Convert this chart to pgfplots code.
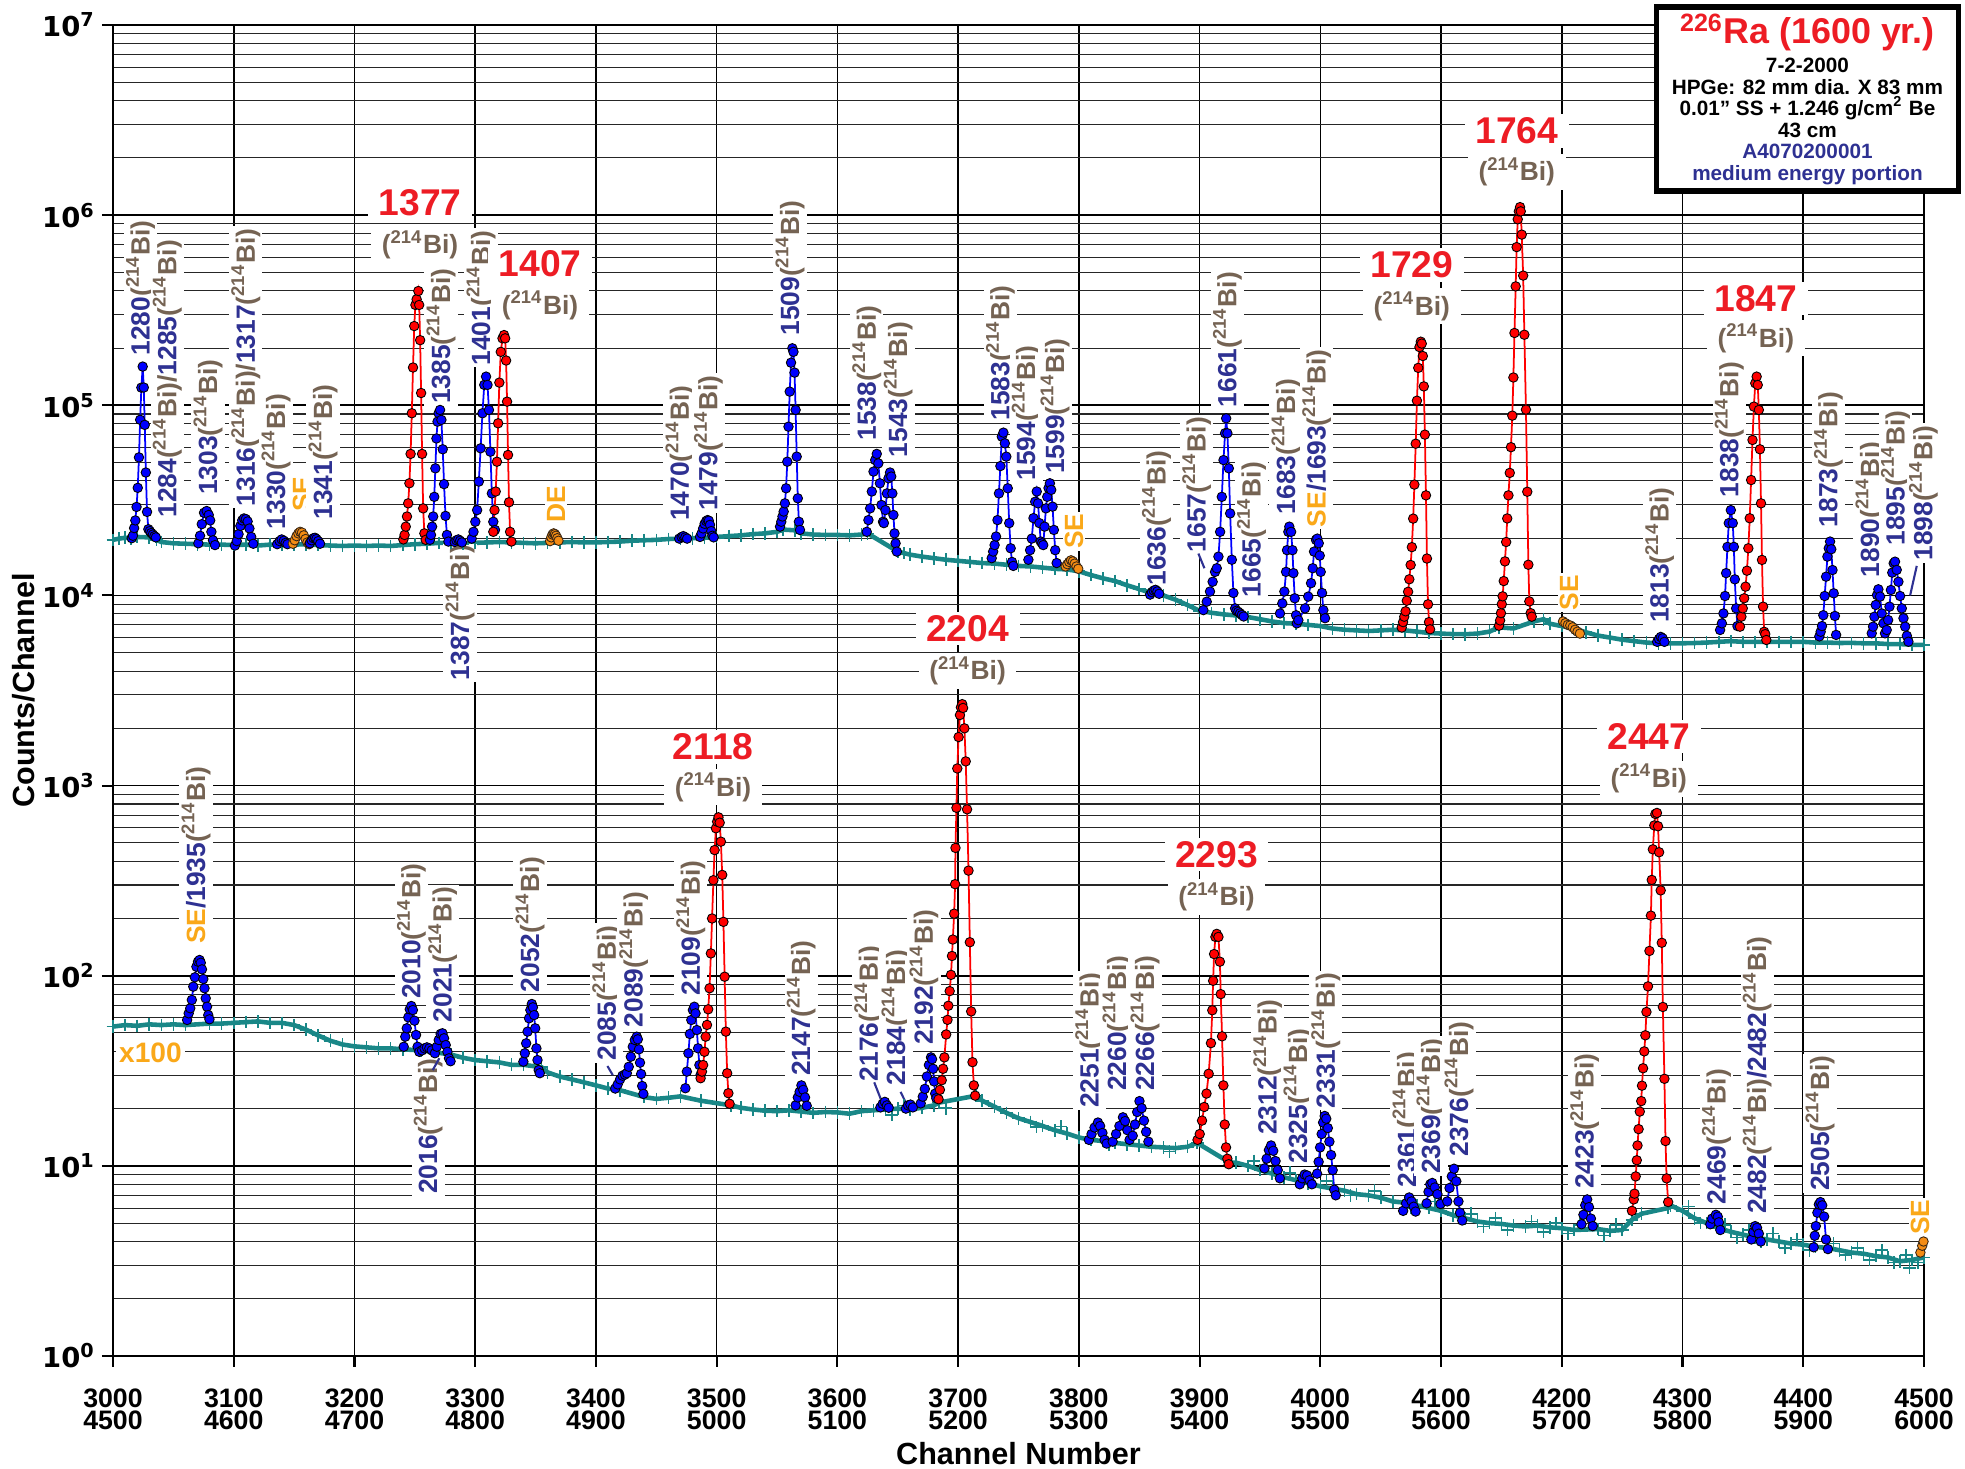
\documentclass[border=0pt]{standalone}
\usepackage{pgfplots}
\pgfplotsset{compat=1.18}
\usepackage{fontspec}
\setmainfont{Liberation Sans}
\newfontfamily\dvs{DejaVu Sans}
\definecolor{cteal}{RGB}{25,135,135}
\definecolor{cblue}{RGB}{0,0,255}
\definecolor{pred}{RGB}{255,0,0}
\definecolor{cred}{RGB}{237,28,36}
\definecolor{corg}{RGB}{245,140,20}
\definecolor{lorg}{RGB}{250,168,25}
\definecolor{lblue}{RGB}{46,49,146}
\definecolor{lbrown}{RGB}{117,99,83}
\newcommand{\BI}{\textcolor{lbrown}{(\textsuperscript{214}Bi)}}
\newcommand{\PK}[1]{\textcolor{lblue}{#1}}
\pgfplotsset{
 bgs/.style={color=cteal, line width=1.3pt, mark=+, mark size=1.8pt, mark options={line width=0.45pt}},
 bgn/.style={color=cteal, only marks, mark=+, mark size=1.8pt, mark options={line width=0.45pt}},
 bp/.style={color=cblue, line width=0.5pt, mark=*, mark size=1.35pt, mark options={fill=cblue, draw=black, line width=0.25pt}},
 rp/.style={color=pred, line width=0.5pt, mark=*, mark size=1.35pt, mark options={fill=pred, draw=black, line width=0.25pt}},
 op/.style={color=corg, line width=0.5pt, mark=*, mark size=1.35pt, mark options={fill=corg, draw=black!70!brown, line width=0.25pt}},
}
\tikzset{
 lab/.style={rotate=90, anchor=west, fill=white, inner sep=0.6pt, font=\fontsize{7.5}{8}\selectfont\bfseries},
 rl/.style={anchor=center, fill=white, inner xsep=3pt, inner ysep=1pt, font=\fontsize{10.6}{11}\selectfont\bfseries, text=cred},
 rb/.style={anchor=center, fill=white, inner xsep=3pt, inner ysep=1pt, font=\fontsize{7.5}{8}\selectfont\bfseries},
 ldr/.style={draw=lblue, line width=0.6pt},
}
\begin{document}
\begin{tikzpicture}
\begin{axis}[
 name=ax, scale only axis, width=18.11cm, height=13.31cm,
 xmin=3000, xmax=4500, ymode=log, ymin=1, ymax=1e7,
 xtick={3000,3100,3200,3300,3400,3500,3600,3700,3800,3900,4000,4100,4200,4300,4400,4500},
 xticklabels={{3000\\4500},{3100\\4600},{3200\\4700},{3300\\4800},{3400\\4900},{3500\\5000},{3600\\5100},{3700\\5200},{3800\\5300},{3900\\5400},{4000\\5500},{4100\\5600},{4200\\5700},{4300\\5800},{4400\\5900},{4500\\6000}},
 ytick={1,10,100,1000,10000,100000,1000000,10000000},
 yticklabels={{10\textsuperscript{0}},{10\textsuperscript{1}},{10\textsuperscript{2}},{10\textsuperscript{3}},{10\textsuperscript{4}},{10\textsuperscript{5}},{10\textsuperscript{6}},{10\textsuperscript{7}}},
 minor ytick={2,3,4,5,6,7,8,9,20,30,40,50,60,70,80,90,200,300,400,500,600,700,800,900,2000,3000,4000,5000,6000,7000,8000,9000,20000,30000,40000,50000,60000,70000,80000,90000,200000,300000,400000,500000,600000,700000,800000,900000,2000000,3000000,4000000,5000000,6000000,7000000,8000000,9000000},
 xmajorgrids, ymajorgrids, yminorgrids,
 tick align=outside, tick pos=left,
 major tick length=0.11cm, minor tick length=0pt,
 major grid style={black, line width=0.45pt},
 minor grid style={black!85, line width=0.3pt},
 axis line style={line width=0.7pt},
 tick style={black, line width=0.6pt},
 xticklabel style={align=center, yshift=-0.09cm, font=\fontsize{7.6}{6.4}\selectfont\bfseries},
 yticklabel style={inner sep=0.8pt, xshift=-0.03cm, font=\dvs\fontsize{7.8}{8}\selectfont\bfseries},
 xlabel={Channel Number}, ylabel={Counts/Channel},
 xlabel style={at={(axis description cs:0.5,-0.0736)}, anchor=center},
 ylabel style={at={(axis description cs:-0.0491,0.5)}, anchor=center},
 label style={font=\fontsize{8.7}{9}\selectfont\bfseries},
 clip=false,
]
% ---- upper continuum (channels 3000-4500)
\addplot[bgs] coordinates {(3000,19600)(3005,19900)(3010,20100)(3015,20000)(3020,20300)(3030,20200)(3036,19600)(3040,19100)(3050,18800)(3060,18700)(3070,18600)(3080,18500)(3090,18500)(3100,18400)(3110,18500)(3120,18300)(3130,18500)(3140,18600)(3150,18500)(3160,18600)(3170,18400)(3180,18300)(3190,18200)(3200,18300)(3210,18200)(3220,18300)(3230,18200)(3240,18400)(3250,18600)(3260,18700)(3270,18900)(3280,18900)(3290,18700)(3300,18900)(3310,19000)(3320,19100)(3330,19000)(3340,18900)(3350,18800)(3360,18900)(3370,19000)(3380,19100)(3390,19000)(3400,19000)(3410,19100)(3420,19200)(3430,19400)(3440,19500)(3450,19600)(3460,19800)(3470,19900)(3480,20000)(3490,20100)(3500,20300)(3510,20500)(3520,20700)(3530,21000)(3540,21200)(3550,21600)(3555,22200)(3565,22000)(3570,21200)(3580,20900)(3590,20800)(3600,20800)(3610,20700)(3620,20900)(3625,21200)(3650,17000)(3655,16700)(3660,16400)(3670,16000)(3680,15700)(3690,15400)(3700,15200)(3710,15000)(3720,14800)(3730,14700)(3740,14500)(3750,14300)(3760,14200)(3770,14000)(3780,13800)(3790,13700)(3800,13400)(3810,12800)(3820,12300)(3830,11900)(3840,11300)(3850,10800)(3860,10300)(3870,10000)(3880,9500)(3890,8900)(3900,8300)(3910,8100)(3920,7950)(3930,7850)(3940,7700)(3950,7500)(3960,7300)(3970,7150)(3980,7100)(3990,7000)(4000,6900)(4010,6700)(4020,6600)(4030,6550)(4040,6500)(4050,6550)(4060,6600)(4070,6550)(4080,6450)(4090,6350)(4100,6300)(4110,6260)(4120,6250)(4130,6300)(4140,6450)(4148,6800)(4160,6700)(4177,7300)(4185,7500)(4190,7100)(4200,6900)(4210,6700)(4220,6400)(4230,6150)(4240,6000)(4250,5850)(4260,5750)(4270,5650)(4280,5600)(4290,5600)(4300,5600)(4310,5620)(4320,5650)(4330,5700)(4340,5750)(4350,5700)(4360,5700)(4370,5700)(4380,5700)(4390,5700)(4400,5700)(4410,5650)(4420,5650)(4430,5620)(4440,5630)(4450,5600)(4460,5600)(4470,5550)(4480,5550)(4490,5500)(4500,5490)};
% ---- lower continuum (channels 4500-6000, divided by 100)
\addplot[bgs] coordinates {(3000,54)(3010,55)(3020,54.5)(3030,55.5)(3040,55)(3050,55.5)(3060,55)(3080,56)(3090,56)(3100,56.5)(3110,57)(3120,57.5)(3130,56.5)(3140,56.5)(3150,55)(3160,52)(3170,48.5)(3180,45.5)(3190,43.5)(3200,42.5)(3210,42)(3220,41.5)(3230,41.5)(3240,41)(3255,40.5)(3280,38.5)(3290,37)(3300,36)(3310,35.5)(3320,35)(3330,34)(3340,34)(3355,33)(3360,31)(3370,29.5)(3380,28.5)(3390,27.5)(3400,26.5)(3410,25.5)(3420,25)(3440,23)(3450,22.5)(3460,22.8)(3470,23.2)(3487,22)(3512,20.8)(3520,20.2)(3530,19.8)(3540,19.5)(3550,19.4)(3560,19.6)(3570,19.3)(3580,19)(3590,19.2)(3600,19.1)(3610,18.8)(3620,19.4)(3630,19.6)(3640,19.8)(3650,20)(3660,19.8)(3670,20.2)(3680,20.8)(3684,21.5)(3715,23.4)(3720,22)(3730,20.5)(3740,19)(3750,17.8)(3760,17)(3770,16.2)(3780,15.4)(3790,14.8)(3800,14.1)(3810,13.7)(3820,13.5)(3830,13.2)(3840,13)(3850,12.8)(3860,12.6)(3870,12.5)(3880,12.4)(3890,12.6)(3898,13.2)(3925,10.4)(3930,10.4)(3940,10)(3950,9.5)(3960,9.1)(3970,8.7)(3980,8.4)(3990,8.1)(4000,7.8)(4010,7.6)(4020,7.4)(4030,7.1)(4040,7.0)(4050,6.8)(4060,6.5)(4070,6.4)(4080,6.2)(4090,6.0)(4100,5.8)(4110,5.5)(4120,5.3)(4130,5.1)(4140,5.0)(4150,4.95)(4160,4.85)(4170,4.8)(4180,4.85)(4190,4.75)(4200,4.7)(4210,4.6)(4230,4.65)(4240,4.55)(4250,4.6)(4258,5.2)(4266,5.6)(4288,6.0)(4290,6.2)(4300,5.8)(4310,5.3)(4320,5.0)(4330,4.7)(4340,4.5)(4350,4.35)(4360,4.2)(4370,4.1)(4380,4.0)(4390,3.9)(4400,3.85)(4410,3.75)(4420,3.7)(4430,3.6)(4440,3.5)(4450,3.45)(4460,3.35)(4470,3.3)(4480,3.15)(4490,3.2)(4500,3.3)};
% scatter of the lower continuum
\addplot[bgn] coordinates {(3645,18.5)(3655,20.8)(3690,20.1)(3765,16.0)(3785,16.1)(3825,12.9)(3875,11.9)(3945,10.6)(3975,9.2)(4005,8.3)(4025,7.0)(4045,7.4)(4075,6.0)(4095,6.5)(4125,5.6)(4135,4.8)(4145,5.3)(4155,4.6)(4175,5.1)(4185,4.5)(4195,5.0)(4205,4.4)(4215,4.9)(4235,4.3)(4245,4.9)(4305,6.1)(4315,5.0)(4335,4.9)(4345,4.2)(4355,4.6)(4365,4.0)(4375,4.4)(4385,3.7)(4395,4.1)(4405,3.6)(4425,3.9)(4435,3.4)(4445,3.7)(4455,3.2)(4465,3.6)(4475,3.1)(4485,3.4)(4488,2.9)(4495,3.1)};
% ================= upper peaks
\addplot[bp] coordinates {(3015.5,20000)(3016.5,20600)(3017.5,22600)(3018.5,24800)(3019.5,29200)(3020.5,36800)(3021.5,53200)(3022.5,83900)(3023.5,123800)(3024.6,159800)(3025.5,124000)(3026.3,78900)(3027.2,44300)(3028.2,27500)(3029.3,22300)(3030.5,21800)(3031.7,21300)(3033,20900)(3034.3,20500)(3035.5,20200)};
\addplot[bp] coordinates {(3070.7,18800)(3072.1,20600)(3073.5,23700)(3075.4,27200)(3077.6,27800)(3079.3,26500)(3080.5,24800)(3081.5,21600)(3082.8,19500)(3084.5,18400)};
\addplot[bp] coordinates {(3101,18300)(3102.5,19300)(3104,21000)(3105.5,23200)(3107,24800)(3108.5,25400)(3110,25200)(3111.5,24500)(3113,22500)(3114.5,20300)(3116.2,18700)};
\addplot[bp] coordinates {(3136,18600)(3138,19300)(3139.7,19700)(3141.5,19400)(3143,18900)(3144.5,18600)};
\addplot[op] coordinates {(3149,18700)(3150.5,19500)(3152,20500)(3153.5,21200)(3155,21600)(3156.5,21400)(3158,20700)(3159.5,19800)(3161,19000)(3162.5,18600)};
\addplot[bp] coordinates {(3163,18800)(3164.5,19500)(3166,20000)(3167.3,20100)(3168.5,19800)(3170,19300)(3171.5,18700)};
\addplot[rp] coordinates {(3240.5,19700)(3241.5,20800)(3242.5,23000)(3243.5,26000)(3244.5,30500)(3245.5,38900)(3246.5,55500)(3247.5,90800)(3248.5,158000)(3249.5,261000)(3250.5,337000)(3251.5,361000)(3252.9,399000)(3253.6,337000)(3254.4,220000)(3255.2,116000)(3256,55500)(3256.9,28700)(3257.9,21200)(3259,19600)};
\addplot[bp] coordinates {(3262.5,19600)(3263.4,20800)(3264.3,23000)(3265.2,26000)(3266.1,33000)(3267,46600)(3267.9,66900)(3268.8,82000)(3269.7,90800)(3270.9,94500)(3272,83800)(3273.1,58700)(3274.2,38500)(3275.4,26200)(3276.6,20800)(3277.8,19200)};
\addplot[bp] coordinates {(3283,19100)(3284.5,19500)(3286,19700)(3287.5,19400)(3289,19000)};
\addplot[bp] coordinates {(3297.1,19900)(3298.6,21600)(3300.1,24400)(3301.6,28100)(3303,39700)(3304.5,59400)(3306,90800)(3307.5,128000)(3309,141500)(3310.2,128000)(3311.4,94500)(3312.6,57000)(3313.8,34400)(3315,24400)(3316.4,22100)};
\addplot[rp] coordinates {(3315,21600)(3316,28100)(3317,35200)(3318,50500)(3319,80400)(3320,131600)(3321.2,191000)(3322.6,225000)(3323.9,234000)(3324.8,225000)(3325.6,172000)(3326.4,104500)(3327.2,54800)(3328,30900)(3328.9,21600)(3330,19200)};
\addplot[op] coordinates {(3362,19300)(3363,20200)(3364,20900)(3365,21200)(3366,21000)(3367,20600)(3368,20000)(3369,19400)};
\addplot[bp] coordinates {(3469,19900)(3471,20300)(3472.4,20500)(3474,20200)(3475.5,19900)};
\addplot[bp] coordinates {(3486.2,20300)(3487.5,21200)(3488.8,22500)(3490,23800)(3491.3,24600)(3492.5,24900)(3493.5,24700)(3494.5,23500)(3495.5,21800)(3496.5,20600)(3497.5,20200)};
\addplot[bp] coordinates {(3552.5,23000)(3553.5,24400)(3554.5,26000)(3555.5,27600)(3556.5,30500)(3557.5,36600)(3558.5,50500)(3559.5,77200)(3560.5,118000)(3561.6,167500)(3562.7,199400)(3563.6,191000)(3564.5,148500)(3565.4,94500)(3566.3,53700)(3567.2,32400)(3568.1,24400)(3569,22100)};
\addplot[bp] coordinates {(3624.3,21600)(3625.7,24900)(3627.1,28700)(3628.5,35200)(3629.9,44800)(3631.3,51500)(3632.6,55500)(3633.9,49500)(3635.2,38900)(3636.5,29900)(3637.8,24400)};
\addplot[bp] coordinates {(3638.5,24000)(3639.8,28100)(3641,34400)(3642.3,41300)(3643.6,44300)(3644.6,42200)(3645.5,34400)(3646.4,26500)(3647.3,21200)(3648.2,18800)(3649.2,17000)};
\addplot[bp] coordinates {(3727.8,15700)(3729,17000)(3730.2,18400)(3731.4,20400)(3732.6,24900)(3733.8,34400)(3735,47900)(3736.2,68400)(3737.5,71800)(3738.7,63100)(3739.9,53700)(3741.1,36600)(3742.3,24000)(3743.5,17700)(3744.6,15000)(3745.7,14300)};
\addplot[bp] coordinates {(3758.2,15400)(3759.6,17300)(3761,19900)(3762.4,25500)(3763.8,31100)(3765.1,35200)(3766.2,30500)(3767.3,24000)(3768.4,19200)(3769.5,18800)};
\addplot[bp] coordinates {(3770.5,18400)(3771.6,23000)(3772.7,28700)(3773.8,33000)(3774.9,36700)(3776,38900)(3777.1,35900)(3778.2,29300)(3779.3,22100)(3780.4,17300)(3781.6,14800)};
\addplot[op] coordinates {(3789,14200)(3790.5,14600)(3792,15000)(3793.5,15300)(3795,15100)(3796.5,14700)(3798,14200)(3799.5,13800)};
\addplot[bp] coordinates {(3859,10100)(3860.5,10400)(3862,10600)(3863.5,10700)(3865,10500)(3866.5,10200)};
\addplot[bp] coordinates {(3903.1,8370)(3905.9,9270)(3908.6,10480)(3910.8,11800)(3912.8,13300)(3914.2,13900)(3915.6,16000)(3917,21600)(3918.4,33000)(3919.8,51500)(3921.1,71300)(3922,85400)(3923,71300)(3924.2,46600)(3925.3,27000)(3926.7,15400)(3928,10300)(3929.4,8550)};
\addplot[bp] coordinates {(3930.5,8300)(3932,8200)(3933.5,8050)(3935,7900)(3936.5,7750)};
\addplot[bp] coordinates {(3966.6,8040)(3968.5,9080)(3970.2,10480)(3971.6,13300)(3972.4,17300)(3973.5,21600)(3974.3,23000)(3975.8,21600)(3976.9,17300)(3977.7,13100)(3978.8,9660)(3979.9,7870)(3980.5,7130)};
\addplot[bp] coordinates {(3981.8,7410)(3987.3,8550)(3990,9860)(3992.3,11600)(3993.7,13900)(3994.8,17000)(3996.4,19600)(3997.5,19900)(3998.7,18800)(3999.5,16200)(4000.3,13300)(4001.4,10300)(4002.5,8370)(4003.9,7590)};
\addplot[rp] coordinates {(4067.4,6780)(4068.5,7240)(4069.5,7730)(4070.6,8250)(4071.6,9380)(4072.7,10450)(4073.7,12160)(4074.8,14460)(4075.8,17950)(4076.9,25350)(4077.9,38270)(4079,62800)(4080,105700)(4081.1,157300)(4082.1,202300)(4083.2,216000)(4084,211000)(4084.9,181600)(4085.7,125700)(4086.6,70100)(4087.5,33600)(4088.3,15630)(4089.2,8980)(4090,7240)(4090.9,6640)};
\addplot[rp] coordinates {(4148,6930)(4148.9,7390)(4149.6,8070)(4150.3,8990)(4151,9890)(4151.9,11900)(4152.9,15100)(4153.9,19100)(4154.8,25400)(4155.8,33600)(4156.9,44100)(4157.9,60200)(4159,88200)(4159.9,140000)(4160.8,240000)(4161.8,422000)(4162.6,679000)(4163.5,951000)(4164.4,1047000)(4165.4,1102000)(4166,1047000)(4166.8,790000)(4168,481000)(4169,235000)(4170.3,94900)(4171.4,35100)(4172.3,14500)(4173.1,9300)(4174.2,8070)(4175.1,7730)};
\addplot[op] coordinates {(4201,7300)(4203,7150)(4205,7000)(4207,6950)(4209,6800)(4211,6600)(4213,6450)(4215,6300)};
\addplot[bp] coordinates {(4279,5700)(4280.5,5900)(4282,6050)(4283.5,5950)(4285,5700)};
\addplot[bp] coordinates {(4331.1,6580)(4332.6,7130)(4333.9,8040)(4335.2,9930)(4336.1,13100)(4337.2,18000)(4338.3,24000)(4340,28100)(4341.6,24000)(4342.5,18000)(4343.3,12150)(4344.4,8550)(4345.5,6900)};
\addplot[rp] coordinates {(4347.6,6850)(4348.75,7730)(4349.9,8550)(4351.05,9660)(4352.2,11120)(4353.35,13490)(4354.5,17700)(4355.65,25460)(4356.8,40450)(4357.95,65700)(4359.1,98400)(4360.25,130600)(4361.4,141500)(4362.3,127900)(4363.2,94500)(4364.1,58700)(4365,30500)(4365.8,15370)(4366.7,8730)(4367.6,6440)(4368.5,6260)(4369.4,5830)};
\addplot[bp] coordinates {(4413.3,6090)(4414.4,6440)(4415.5,6900)(4416.6,7870)(4417.7,9930)(4418.9,12550)(4420,16000)(4421.1,17700)(4422.2,19200)(4423.2,17500)(4424.2,13600)(4425.2,10260)(4426.2,7800)(4427.2,6200)};
\addplot[bp] coordinates {(4456.7,6320)(4457.8,6850)(4458.9,7730)(4460,8910)(4461.1,10050)(4462.2,10770)(4463.6,9860)(4465,8040)(4466.4,7130)(4467.7,6320)};
\addplot[bp] coordinates {(4469.1,6580)(4470.3,7420)(4471.4,8730)(4472.6,10680)(4473.7,13180)(4474.9,14760)(4476,15050)(4477.4,13620)(4478.8,11800)(4480.2,9930)(4481.6,8550)(4483,7590)(4484.4,6850)(4485.8,6130)(4487.1,5710)};
% ================= lower peaks
\addplot[bp] coordinates {(3061.4,58.5)(3062.7,63.4)(3064,67.4)(3065.3,74.6)(3066.5,87.6)(3067.8,98.1)(3069.1,111.5)(3070.4,118.5)(3071.7,121)(3072.7,117)(3073.7,108)(3074.8,96.1)(3075.8,85.9)(3076.8,76.1)(3077.9,68.7)(3078.9,62.1)(3079.9,59)};
\addplot[bp] coordinates {(3240.8,42.3)(3242.1,47.8)(3243.3,52.9)(3244.6,60.4)(3245.8,66.6)(3247.1,69.3)(3248.4,66)(3249.7,58)(3251,48.8)(3252.3,42.3)(3253.7,39.8)};
\addplot[bp] coordinates {(3256,40.5)(3258,41.5)(3260,42)(3262,41.5)(3264,40.5)};
\addplot[bp] coordinates {(3266.6,39.1)(3268.2,42.3)(3269.8,45.9)(3271.4,49.4)(3272.9,49.8)(3274.2,46.9)(3275.6,43.2)(3277,39.8)(3278.3,36.8)(3279.6,35.5)};
\addplot[bp] coordinates {(3339.9,35.3)(3341.1,39.1)(3342.2,44.1)(3343.4,50.8)(3344.6,59.7)(3345.7,66)(3346.9,71)(3347.8,68.2)(3348.8,62.1)(3349.7,52.9)(3350.7,41.5)(3351.6,36)(3352.6,31.9)(3353.5,30.7)};
\addplot[bp] coordinates {(3416,25.5)(3418,26.8)(3420,28.5)(3422,29.8)(3424,30.2)(3425.6,30.7)(3427.2,33.2)(3428.9,37.5)(3430.5,42.3)(3432.2,45.9)(3433.8,47.8)(3434.7,46.3)(3435.6,41)(3436.5,34.9)(3437.4,30.4)(3438.3,26.3)(3439.3,23.9)};
\addplot[bp] coordinates {(3474.1,25.6)(3475.3,31.3)(3476.6,39.1)(3477.8,49.4)(3479,58.5)(3480.3,66)(3481.5,68.7)(3482.5,63.4)(3483.6,51.8)(3484.6,41.5)(3485.7,33.9)(3486.7,30.1)};
\addplot[rp] coordinates {(3486.7,28.9)(3487.8,31.3)(3488.8,33.9)(3489.9,39.8)(3490.9,47.8)(3492,55.1)(3493,66.6)(3494.1,85.9)(3495.2,131)(3496.2,200)(3497.3,318)(3498.3,458)(3499.4,596)(3500.4,646)(3501.5,681)(3502.5,638)(3503.5,507)(3504.6,339)(3505.6,192)(3506.6,98.8)(3507.6,50.8)(3508.7,30.7)(3509.7,24.1)(3510.7,21.2)};
\addplot[bp] coordinates {(3565.4,20.8)(3567.2,22.9)(3568.7,24.5)(3570.2,26.5)(3571.7,25.1)(3573.2,22.9)(3574.6,20.7)};
\addplot[bp] coordinates {(3635.6,20.3)(3637.5,21.2)(3639.3,21.7)(3641,20.8)(3642.5,20.2)};
\addplot[bp] coordinates {(3656.7,20)(3658.5,20.8)(3660.5,21)(3662.5,20.3)};
\addplot[bp] coordinates {(3669,21.3)(3670.7,23.1)(3672.4,25.4)(3674.1,29.5)(3675.8,33.9)(3677.5,37.2)(3678.4,36.4)(3679.3,32.4)(3680.1,27.8)(3681,24.0)(3681.9,22.7)};
\addplot[rp] coordinates {(3683.8,22.4)(3684.9,25.1)(3686.4,28.2)(3687.5,32.4)(3688.6,37.2)(3690.1,49.1)(3691.2,58.6)(3691.9,69.5)(3693,83.0)(3694.1,101)(3694.9,127)(3695.6,155)(3696.7,212)(3697.5,303)(3697.8,470)(3698.6,764)(3699.3,1230)(3700.4,1800)(3701.5,2350)(3702.3,2580)(3703.4,2680)(3704.1,2560)(3705.2,2000)(3706.3,1340)(3707.4,750)(3708.6,357)(3709.7,150)(3710.8,64.9)(3711.9,35.1)(3713,26.5)(3714.1,23.4)};
\addplot[bp] coordinates {(3808.3,13.7)(3810.5,14.7)(3813,15.9)(3815.8,16.9)(3817.6,16.2)(3819.5,14.9)(3821.3,13.7)(3823,13.1)};
\addplot[bp] coordinates {(3828,13.4)(3830.8,14.7)(3833.6,16.2)(3836.5,18)(3838.3,17.2)(3840.2,15.4)(3842,13.7)};
\addplot[bp] coordinates {(3844.6,14.4)(3846.5,16.5)(3848.3,19.2)(3850.2,21.9)(3852,20.1)(3853.9,17.3)(3855.7,15.1)(3857.6,13.4)};
\addplot[rp] coordinates {(3898.3,13.7)(3900.1,14.7)(3902,17.3)(3903.8,20.4)(3905.7,24)(3907.5,30.5)(3909.4,44.2)(3910.5,65.8)(3911.2,94)(3912,130)(3913.1,160)(3914.2,166)(3915.6,160)(3916.8,118.5)(3917.5,80)(3918.6,48)(3919.7,26.5)(3920.8,16.5)(3921.9,12.5)(3923,10.9)(3924.1,10.2)};
\addplot[bp] coordinates {(3953.7,9.7)(3955.5,10.9)(3957.4,12.1)(3959.2,12.8)(3961,12)(3962.9,10.6)(3964.7,9.5)(3966.5,8.6)};
\addplot[bp] coordinates {(3983,8.0)(3985,8.6)(3987,9.0)(3989,8.9)(3991,8.4)(3993,8.0)};
\addplot[bp] coordinates {(3997.3,9.1)(3998.6,10.5)(3999.8,12.5)(4001.1,14.7)(4002.3,16.9)(4003.6,18.3)(4004.9,17.7)(4006.2,15.8)(4007.5,13.4)(4008.9,11.4)(4010.2,9.5)(4011.5,7.5)(4012.8,7.0)};
\addplot[bp] coordinates {(4068.6,5.8)(4071,6.35)(4073.6,6.82)(4075.5,6.5)(4077.3,6.1)(4078.9,5.75)};
\addplot[bp] coordinates {(4088,6.35)(4089.6,7.3)(4091.1,8.0)(4092.7,8.13)(4094.8,7.7)(4097,7.1)(4099.5,6.3)};
\addplot[bp] coordinates {(4105.1,6.5)(4107,7.65)(4108.9,8.8)(4110.7,9.66)(4112.6,8.3)(4114.4,6.5)(4115.7,5.67)(4117.5,5.16)};
\addplot[bp] coordinates {(4216.3,4.93)(4217.9,5.53)(4219.4,6.21)(4221,6.66)(4222.5,6.07)(4224.1,5.28)(4225.6,4.82)};
\addplot[rp] coordinates {(4258.1,5.80)(4259.6,6.66)(4260.2,7.14)(4261.2,8.80)(4262.1,10.7)(4262.7,12.8)(4263.6,15.6)(4264.6,19.3)(4265.8,21.9)(4266.4,26.4)(4267.3,32.6)(4268.3,40.0)(4269.2,48.6)(4270.1,64.5)(4271.4,87.9)(4272.6,135)(4273.8,207)(4274.5,319)(4275.4,462)(4276.6,617)(4277.5,709)(4278.8,718)(4279.7,611)(4280.6,446)(4281.9,281)(4282.8,149)(4283.7,68.5)(4285,28.7)(4285.9,13.5)(4286.8,8.59)(4288.1,6.45)};
\addplot[bp] coordinates {(4323,4.93)(4324.5,5.28)(4327.6,5.53)(4329.2,5.4)(4330.1,5.05)(4331.3,4.6)};
\addplot[bp] coordinates {(4357,4.1)(4358.6,4.49)(4360.1,4.82)(4361.7,4.72)(4363.2,4.4)(4364.8,4.0)};
\addplot[bp] coordinates {(4408.6,3.73)(4409.5,4.29)(4410.4,4.82)(4411.7,5.67)(4412.9,6.27)(4414.2,6.45)(4415.7,6.2)(4417.3,5.41)(4418.8,4.1)(4420.4,3.65)};
\addplot[op] coordinates {(4497,3.5)(4498.5,3.8)(4499.6,4.0)};
% ================= labels (upper)
\node[lab] at (axis cs:3022.8,1.77e5) {\PK{1280}\BI};
\node[lab] at (axis cs:3045,2.48e4) {\PK{1284}\BI\textcolor{lbrown}{/}\PK{1285}\BI};
\node[lab] at (axis cs:3078.7,3.27e4) {\PK{1303}\BI};
\node[lab] at (axis cs:3110,2.85e4) {\PK{1316}\BI\textcolor{lbrown}{/}\PK{1317}\BI};
\node[lab] at (axis cs:3135,2.16e4) {\PK{1330}\BI};
\node[lab] at (axis cs:3156.5,2.66e4) {\textcolor{lorg}{SE}};
\node[lab] at (axis cs:3174,2.42e4) {\PK{1341}\BI};
\node[rl] at (axis cs:3254.3,1.159e6) {1377};
\node[rb] at (axis cs:3254.3,6.97e5) {\BI};
\node[lab] at (axis cs:3271.7,9.84e4) {\PK{1385}\BI};
\node[lab] at (axis cs:3287.4,3470) {\PK{1387}\BI};
\node[lab] at (axis cs:3304.8,1.567e5) {\PK{1401}\BI};
\node[rl] at (axis cs:3353.7,5.58e5) {1407};
\node[rb] at (axis cs:3353.7,3.365e5) {\BI};
\node[lab] at (axis cs:3367,2.34e4) {\textcolor{lorg}{DE}};
\node[lab] at (axis cs:3469.6,2.39e4) {\PK{1470}\BI};
\node[lab] at (axis cs:3493.2,2.70e4) {\PK{1479}\BI};
\node[lab] at (axis cs:3560.8,2.249e5) {\PK{1509}\BI};
\node[lab] at (axis cs:3624.3,6.31e4) {\PK{1538}\BI};
\node[lab] at (axis cs:3650.3,5.15e4) {\PK{1543}\BI};
\node[lab] at (axis cs:3735,8.04e4) {\PK{1583}\BI};
\node[lab] at (axis cs:3756.3,3.89e4) {\PK{1594}\BI};
\node[lab] at (axis cs:3780.3,4.22e4) {\PK{1599}\BI};
\node[lab] at (axis cs:3796,1.70e4) {\textcolor{lorg}{SE}};
\node[lab] at (axis cs:3864.3,1.09e4) {\PK{1636}\BI};
\node[lab] at (axis cs:3897.6,1.63e4) {\PK{1657}\BI};
\node[lab] at (axis cs:3923,9.44e4) {\PK{1661}\BI};
\node[lab] at (axis cs:3943,9460) {\PK{1665}\BI};
\node[lab] at (axis cs:3971.6,2.59e4) {\PK{1683}\BI};
\node[lab] at (axis cs:3997,2.21e4) {\textcolor{lorg}{SE}\PK{/1693}\BI};
\node[rl] at (axis cs:4075.7,5.47e5) {1729};
\node[rb] at (axis cs:4075.7,3.327e5) {\BI};
\node[rl] at (axis cs:4162.7,2.773e6) {1764};
\node[rb] at (axis cs:4162.7,1.687e6) {\BI};
\node[lab] at (axis cs:4206,8070) {\textcolor{lorg}{SE}};
\node[lab] at (axis cs:4281,6930) {\PK{1813}\BI};
\node[lab] at (axis cs:4338.7,3.18e4) {\PK{1838}\BI};
\node[rl] at (axis cs:4360.7,3.656e5) {1847};
\node[rb] at (axis cs:4360.7,2.249e5) {\BI};
\node[lab] at (axis cs:4420.8,2.21e4) {\PK{1873}\BI};
\node[lab] at (axis cs:4455.3,1.205e4) {\PK{1890}\BI};
\node[lab] at (axis cs:4476.4,1.77e4) {\PK{1895}\BI};
\node[lab] at (axis cs:4499.5,1.475e4) {\PK{1898}\BI};
% ================= labels (lower)
\node[lab] at (axis cs:3068.8,142) {\textcolor{lorg}{SE}\PK{/1935}\BI};
\node[fill=white, inner sep=1pt, text=lorg, font=\fontsize{8}{9}\selectfont\bfseries] at (axis cs:3031,39.4) {x100};
\node[lab] at (axis cs:3247.2,73.1) {\PK{2010}\BI};
\node[lab] at (axis cs:3261,6.89) {\PK{2016}\BI};
\node[lab] at (axis cs:3273,55.1) {\PK{2021}\BI};
\node[lab] at (axis cs:3345.4,79.3) {\PK{2052}\BI};
\node[lab] at (axis cs:3409,34.6) {\PK{2085}\BI};
\node[lab] at (axis cs:3431.2,51.9) {\PK{2089}\BI};
\node[lab] at (axis cs:3478.6,76.0) {\PK{2109}\BI};
\node[rl] at (axis cs:3497,1596) {2118};
\node[rb] at (axis cs:3497,982) {\BI};
\node[lab] at (axis cs:3570,28.8) {\PK{2147}\BI};
\node[lab] at (axis cs:3626,27.0) {\PK{2176}\BI};
\node[lab] at (axis cs:3648.6,25.7) {\PK{2184}\BI};
\node[lab] at (axis cs:3671.7,41.8) {\PK{2192}\BI};
\node[rl] at (axis cs:3707.8,6683) {2204};
\node[rb] at (axis cs:3707.8,4018) {\BI};
\node[lab] at (axis cs:3808.9,19.5) {\PK{2251}\BI};
\node[lab] at (axis cs:3831.6,24.0) {\PK{2260}\BI};
\node[lab] at (axis cs:3854.8,24.0) {\PK{2266}\BI};
\node[rl] at (axis cs:3914,434.5) {2293};
\node[rb] at (axis cs:3914,260.6) {\BI};
\node[lab] at (axis cs:3956.4,14.06) {\PK{2312}\BI};
\node[lab] at (axis cs:3981.5,9.93) {\PK{2325}\BI};
\node[lab] at (axis cs:4004.5,19.45) {\PK{2331}\BI};
\node[lab] at (axis cs:4071.8,7.48) {\PK{2361}\BI};
\node[lab] at (axis cs:4091.7,8.79) {\PK{2369}\BI};
\node[lab] at (axis cs:4114.9,10.84) {\PK{2376}\BI};
\node[lab] at (axis cs:4218.9,7.31) {\PK{2423}\BI};
\node[rl] at (axis cs:4272,1816) {2447};
\node[rb] at (axis cs:4272,1089) {\BI};
\node[lab] at (axis cs:4328.2,6.07) {\PK{2469}\BI};
\node[lab] at (axis cs:4361.8,5.41) {\PK{2482}\BI\PK{/2482}\BI};
\node[lab] at (axis cs:4413.9,7.14) {\PK{2505}\BI};
\node[lab] at (axis cs:4496.7,4.19) {\textcolor{lorg}{SE}};
% leader lines
\draw[ldr] (axis cs:3904,13900) -- (axis cs:3899,16600);
\draw[ldr] (axis cs:4494,14300) -- (axis cs:4488.5,10000);
\draw[ldr] (axis cs:3264.8,31.9) -- (axis cs:3270.3,36.8);
\draw[ldr] (axis cs:3409.5,33.5) -- (axis cs:3414,30);
\draw[ldr] (axis cs:3630.5,27.5) -- (axis cs:3636,22.4);
\draw[ldr] (axis cs:3652.3,24.5) -- (axis cs:3657.8,20.8);
% info box
\node[draw=black, line width=1.5pt, fill=white, anchor=north east, minimum width=3.02cm, minimum height=1.84cm, inner sep=1.5pt, align=center, font=\fontsize{5.9}{6.1}\selectfont\bfseries] at (rel axis cs:1.0205,1.0155)
 {{\fontsize{10.2}{11}\selectfont\color{cred}\textsuperscript{226}Ra (1600 yr.)}\\[1pt]
  7-2-2000\\ HPGe: 82 mm dia. X 83 mm\\ 0.01” SS + 1.246 g/cm\textsuperscript{2} Be\\ 43 cm\\
  {\color{lblue}A4070200001}\\ {\color{lblue}medium energy portion}};
\end{axis}
\pgfresetboundingbox
\path[use as bounding box] ([xshift=-1.13cm,yshift=-1.13cm]ax.south west) rectangle ([xshift=0.41cm,yshift=0.25cm]ax.north east);
\end{tikzpicture}
\end{document}
